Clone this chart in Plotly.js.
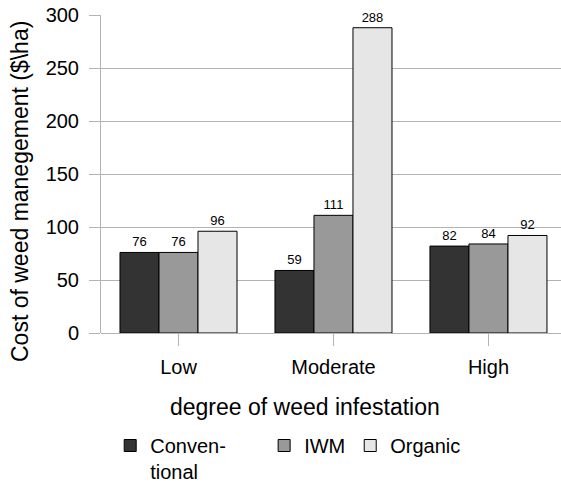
<!DOCTYPE html>
<html>
<head>
<meta charset="utf-8">
<script src="https://cdn.plot.ly/plotly-3.0.1.min.js"></script>
<style>html,body{margin:0;padding:0;background:#fff}#chart{width:561px;height:491px}</style>
</head>
<body>
<div id="chart"></div>
<script>
const categories = ["Low", "Moderate", "High"];
const seriesNames = ["Conven-\u00A0\u00A0\u00A0\u00A0\u00A0\u00A0<br>tional", "IWM", "Organic"];
const conventional = [76, 59, 82];
const iwm = [76, 111, 84];
const organic = [96, 288, 92];
const yTicks = [0, 50, 100, 150, 200, 250, 300];
const colors = ["#333333", "#999999", "#e6e6e6"];

const font = "Liberation Sans, Arial, sans-serif";
const series = [conventional, iwm, organic];
const traces = series.map((vals, i) => ({
  type: "bar",
  name: seriesNames[i],
  x: categories,
  y: vals,
  text: vals.map(String),
  textposition: "outside",
  cliponaxis: false,
  textfont: {family: font, size: 13, color: "#000"},
  marker: {color: colors[i], line: {color: "#000", width: 1}}
}));

const layout = {
  width: 561, height: 491,
  margin: {l: 101, r: 0, t: 15, b: 158},
  paper_bgcolor: "#fff", plot_bgcolor: "#fff",
  font: {family: font, color: "#000"},
  barmode: "group",
  bargap: 0.245,
  bargroupgap: 0,
  showlegend: true,
  legend: {
    orientation: "h", x: 0.02, xanchor: "left",
    yref: "container", y: 1 - 426 / 491, yanchor: "top",
    valign: "top", font: {family: font, size: 20, color: "#000"},
    traceorder: "normal"
  },
  xaxis: {
    range: [-0.5, 2.468],
    tickfont: {family: font, size: 20, color: "#000"},
    ticks: "outside", ticklen: 12, tickcolor: "#b3b3b3",
    ticklabelstandoff: 4,
    showline: false, showgrid: false, zeroline: false,
    fixedrange: true
  },
  yaxis: {
    range: [0, 300],
    tickvals: yTicks,
    tickfont: {family: font, size: 20, color: "#000"},
    ticks: "outside", ticklen: 11, tickcolor: "#b3b3b3",
    ticklabelstandoff: 6,
    showline: true, linecolor: "#b3b3b3", linewidth: 1,
    showgrid: true, gridcolor: "#b3b3b3", gridwidth: 1,
    zeroline: true, zerolinecolor: "#b3b3b3",
    fixedrange: true
  },
  annotations: [{
    text: "degree of weed infestation",
    xref: "paper", yref: "paper",
    x: (305 - 101) / 460, y: -(407 - 333) / 318,
    xanchor: "center", yanchor: "middle",
    showarrow: false,
    font: {family: font, size: 23, color: "#000"}
  }, {
    text: "Cost of weed manegement ($\\ha)",
    xref: "paper", yref: "paper",
    x: (20 - 101) / 460, y: (333 - 192) / 318,
    xanchor: "center", yanchor: "middle", textangle: -90,
    showarrow: false,
    font: {family: font, size: 23, color: "#000"}
  }]
};

Plotly.newPlot("chart", traces, layout, {displayModeBar: false, staticPlot: true});
</script>
</body>
</html>
